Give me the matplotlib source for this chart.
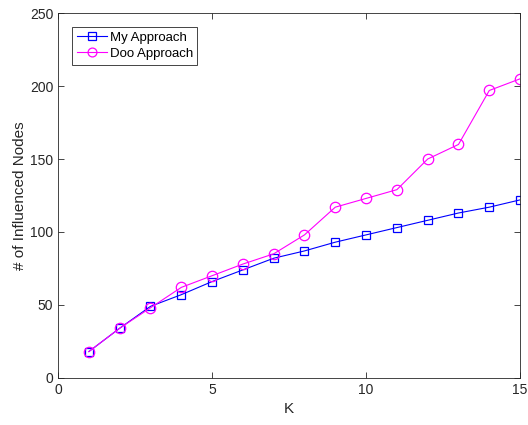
import matplotlib
matplotlib.use("Agg")
from matplotlib import pyplot as plt

plt.rcParams['font.family'] = ['Liberation Sans', 'DejaVu Sans']

k = list(range(1, 16))
my_approach = [18, 34, 49, 57, 66, 74, 82, 87, 93, 98, 103, 108, 113, 117, 122]
doo_approach = [18, 34, 48, 62, 70, 78, 85, 98, 117, 123, 129, 150, 160, 197, 205]

fig = plt.figure(figsize=(5.28, 4.25), dpi=100)
ax = fig.add_axes([0.110, 0.111, 0.875, 0.858])

ax.plot(k, my_approach, color='#0000ff', marker='s', markersize=6, markerfacecolor='none',
        markeredgewidth=0.9, linewidth=0.8, label='My Approach')
ax.plot(k, doo_approach, color='#ff00ff', marker='o', markersize=7.5, markerfacecolor='none',
        markeredgewidth=0.9, linewidth=0.8, label='Doo Approach')

ax.set_xlim(0, 15)
ax.set_ylim(0, 250)
ax.set_xticks([0, 5, 10, 15])
ax.set_yticks([0, 50, 100, 150, 200, 250])
ax.tick_params(direction='in', top=True, right=True, labelsize=10, colors='#262626', length=4, width=0.6)
for s in ax.spines.values():
    s.set_linewidth(0.6)
    s.set_color('#262626')

ax.set_xlabel('K', fontsize=11, color='#262626')
ax.set_ylabel('# of Influenced Nodes', fontsize=11, color='#262626', labelpad=2)

leg = ax.legend(loc='upper left', bbox_to_anchor=(0.03, 0.962), borderaxespad=0, fancybox=False,
                framealpha=1, edgecolor='#262626', fontsize=9.5, handlelength=2.3, borderpad=0.35,
                labelspacing=0.3, handletextpad=0.2, markerscale=0.85)
leg.get_frame().set_linewidth(0.6)

fig.savefig('out.png', dpi=100)
